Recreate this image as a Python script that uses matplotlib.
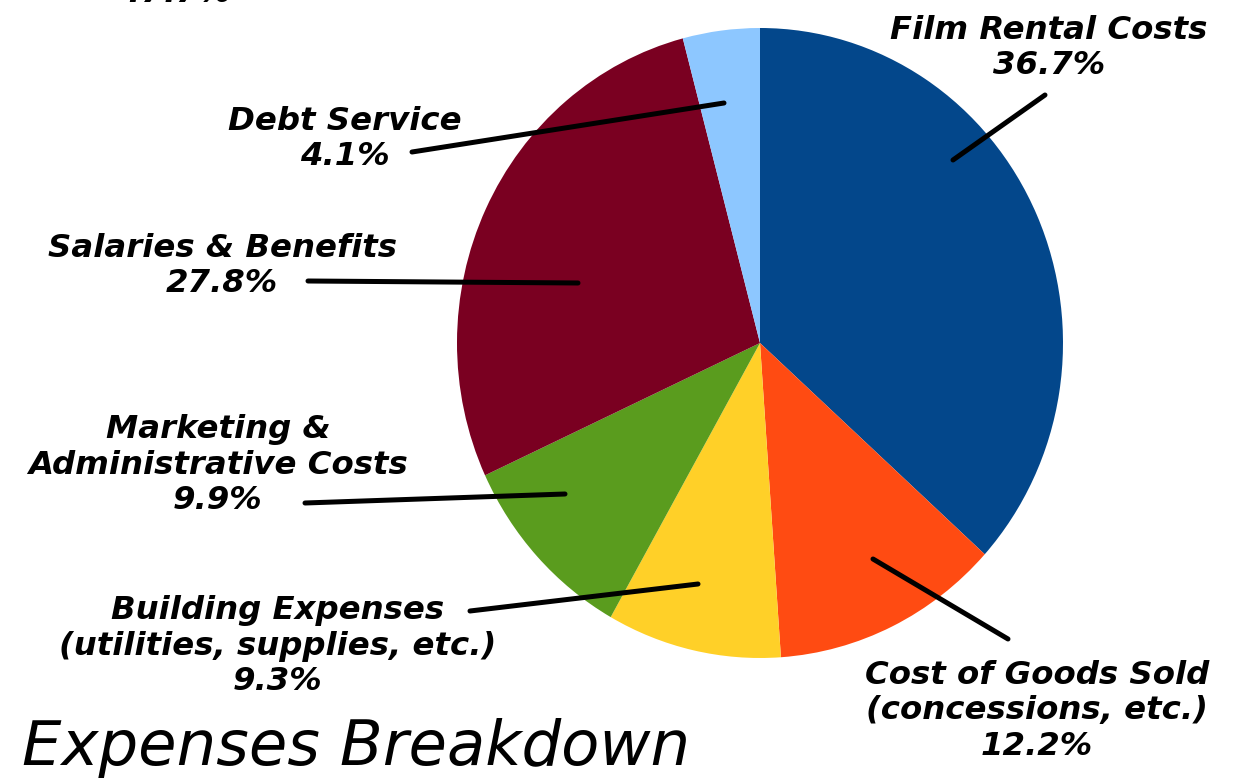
import matplotlib
matplotlib.use("Agg")
import matplotlib.pyplot as plt

categories = ["Film Rental Costs", "Cost of Goods Sold\n(concessions, etc.)",
              "Building Expenses\n(utilities, supplies, etc.)",
              "Marketing &\nAdministrative Costs", "Salaries & Benefits", "Debt Service"]
values = [36.7, 12.2, 9.3, 9.9, 27.8, 4.1]
colors = ["#03478B", "#FF4B12", "#FFD028", "#5A9C1E", "#7A0021", "#8DC7FF"]
title = "Expenses Breakdown"
top_label = "47.7%"

W, H = 1237, 781
fig = plt.figure(figsize=(W / 100, H / 100), dpi=100)
fig.patch.set_facecolor("white")

# Pie axes (bbox in pixels: x 457..1063, y 28..658 image coords)
x0, x1, y0, y1 = 457, 1063, 28, 658
axp = fig.add_axes([x0 / W, 1 - y1 / H, (x1 - x0) / W, (y1 - y0) / H])
axp.pie(values, colors=colors, startangle=90, counterclock=False,
        wedgeprops=dict(linewidth=0), radius=1)
axp.set_aspect("auto")
axp.set_xlim(-1, 1)
axp.set_ylim(-1, 1)
axp.axis("off")

# Overlay axes in pixel coordinates for labels and leaders
ax = fig.add_axes([0, 0, 1, 1])
ax.set_xlim(0, W)
ax.set_ylim(H, 0)
ax.axis("off")
ax.patch.set_alpha(0)

fam = ["DejaVu Sans"]
fs = 23.3
tk = dict(fontsize=fs, fontweight="bold", fontstyle="italic", family=fam,
          ha="center", va="center", color="black", linespacing=1.17)

def fmt(v):
    return f"{v:.1f}%"

# label positions (text center) and leader lines
labels = [
    (1049, 48, [(953, 160), (1045, 95)]),
    (1037, 711, [(873, 559), (1008, 639)]),
    (278, 646, [(470, 611), (698, 584)]),
    (218, 465, [(305, 503), (565, 494)]),
    (222, 266, [(308, 281), (578, 283)]),
    (345, 139, [(412, 152), (724, 103)]),
]
for cat, v, (tx, ty, pts) in zip(categories, values, labels):
    ax.text(tx, ty, cat + "\n" + fmt(v), **tk)
    ax.plot([p[0] for p in pts], [p[1] for p in pts], color="black",
            lw=3.6, solid_capstyle="round")

ax.text(175, -6, top_label, **tk)

ax.text(22, 748, title, fontsize=45, fontweight="normal", fontstyle="italic",
        family=fam, ha="left", va="center", color="black")

fig.savefig("out.png", dpi=100, facecolor="white")
